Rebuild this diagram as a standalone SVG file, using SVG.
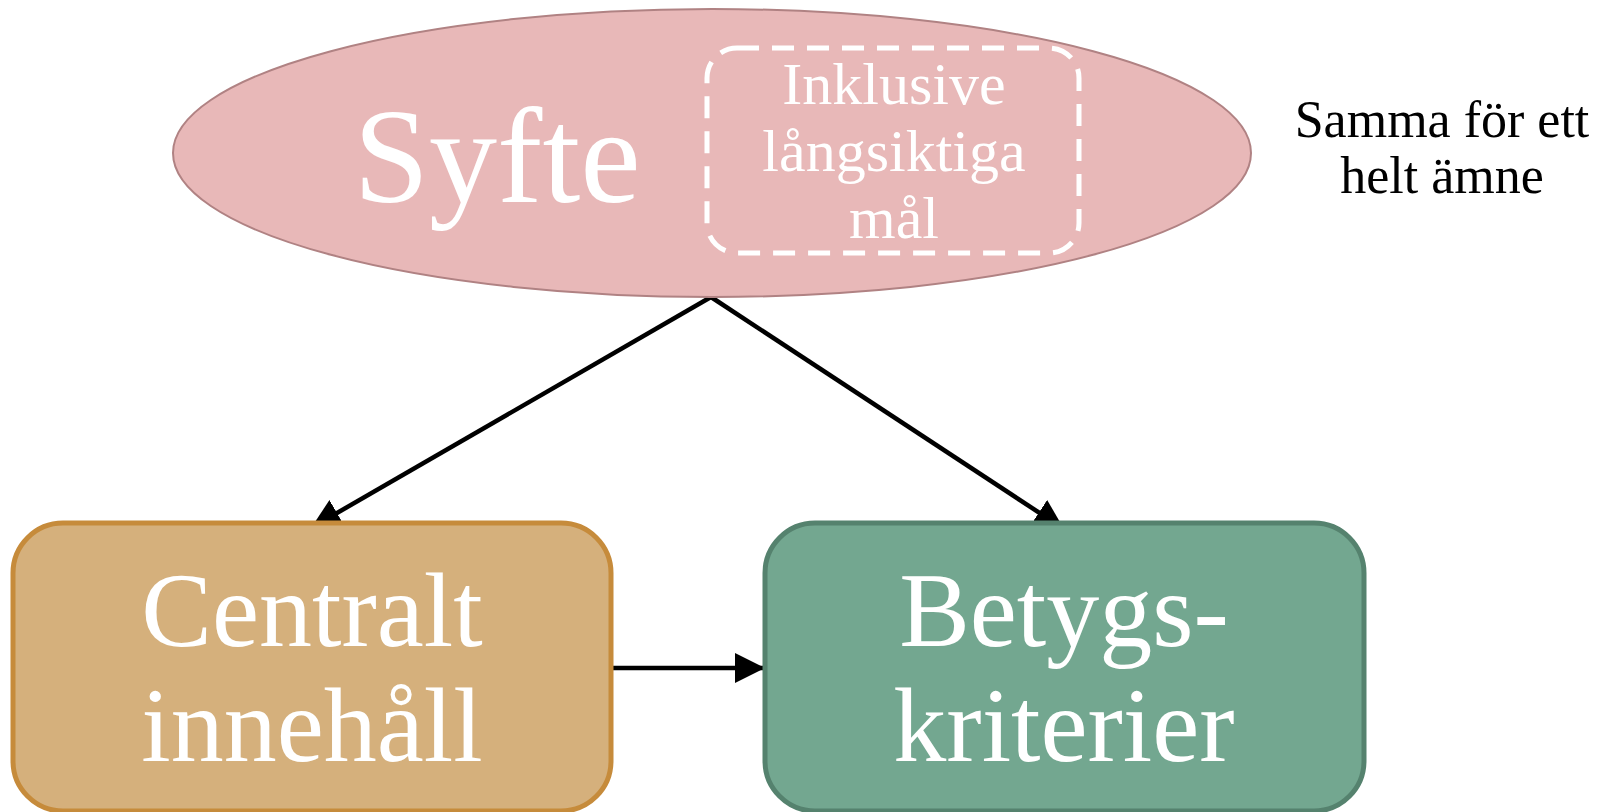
<svg xmlns="http://www.w3.org/2000/svg" width="1600" height="812" viewBox="0 0 1600 812">
<defs>
<marker id="arr" viewBox="0 0 30 30" refX="30" refY="15" markerWidth="30" markerHeight="30" markerUnits="userSpaceOnUse" orient="auto">
<path d="M0,0 L30,15 L0,30 Z" fill="#000"/>
</marker>
<style>
.t{font-family:"Liberation Serif","Times New Roman",serif;text-anchor:middle}
.w{fill:#fff}
.edge{stroke:#000;stroke-width:4.5;fill:none;marker-end:url(#arr)}
</style>
</defs>
<rect width="1600" height="812" fill="#fff"/>
<g id="connectors">
<line class="edge" x1="711" y1="297" x2="311" y2="528"/>
<line class="edge" x1="711" y1="297" x2="1064" y2="529"/>
<line class="edge" x1="610" y1="668" x2="765" y2="668"/>
</g>
<g id="syfte">
<ellipse cx="712" cy="153" rx="539" ry="144" fill="#E8B8B8" stroke="#B08283" stroke-width="2"/>
<text class="t w" x="497" y="202" font-size="136">Syfte</text>
<rect x="707" y="48" width="372" height="205" rx="30" ry="30" fill="none" stroke="#fff" stroke-width="5" stroke-dasharray="22 13"/>
<text class="t w" font-size="60"><tspan x="894" y="104">Inklusive</tspan><tspan x="894" y="171">långsiktiga</tspan><tspan x="894" y="238">mål</tspan></text>
</g>
<g id="centralt">
<rect x="13" y="523" width="598" height="288" rx="50" ry="50" fill="#D5B07C" stroke="#C68B3B" stroke-width="5"/>
<text class="t w" font-size="106"><tspan x="312" y="646">Centralt</tspan><tspan x="312" y="761">innehåll</tspan></text>
</g>
<g id="betyg">
<rect x="765" y="523" width="599" height="288" rx="50" ry="50" fill="#73A790" stroke="#55826E" stroke-width="5"/>
<text class="t w" font-size="106"><tspan x="1064" y="646">Betygs-</tspan><tspan x="1064" y="761">kriterier</tspan></text>
</g>
<g id="note">
<text class="t" font-size="52" fill="#000"><tspan x="1442" y="137">Samma för ett</tspan><tspan x="1442" y="193">helt ämne</tspan></text>
</g>
</svg>
